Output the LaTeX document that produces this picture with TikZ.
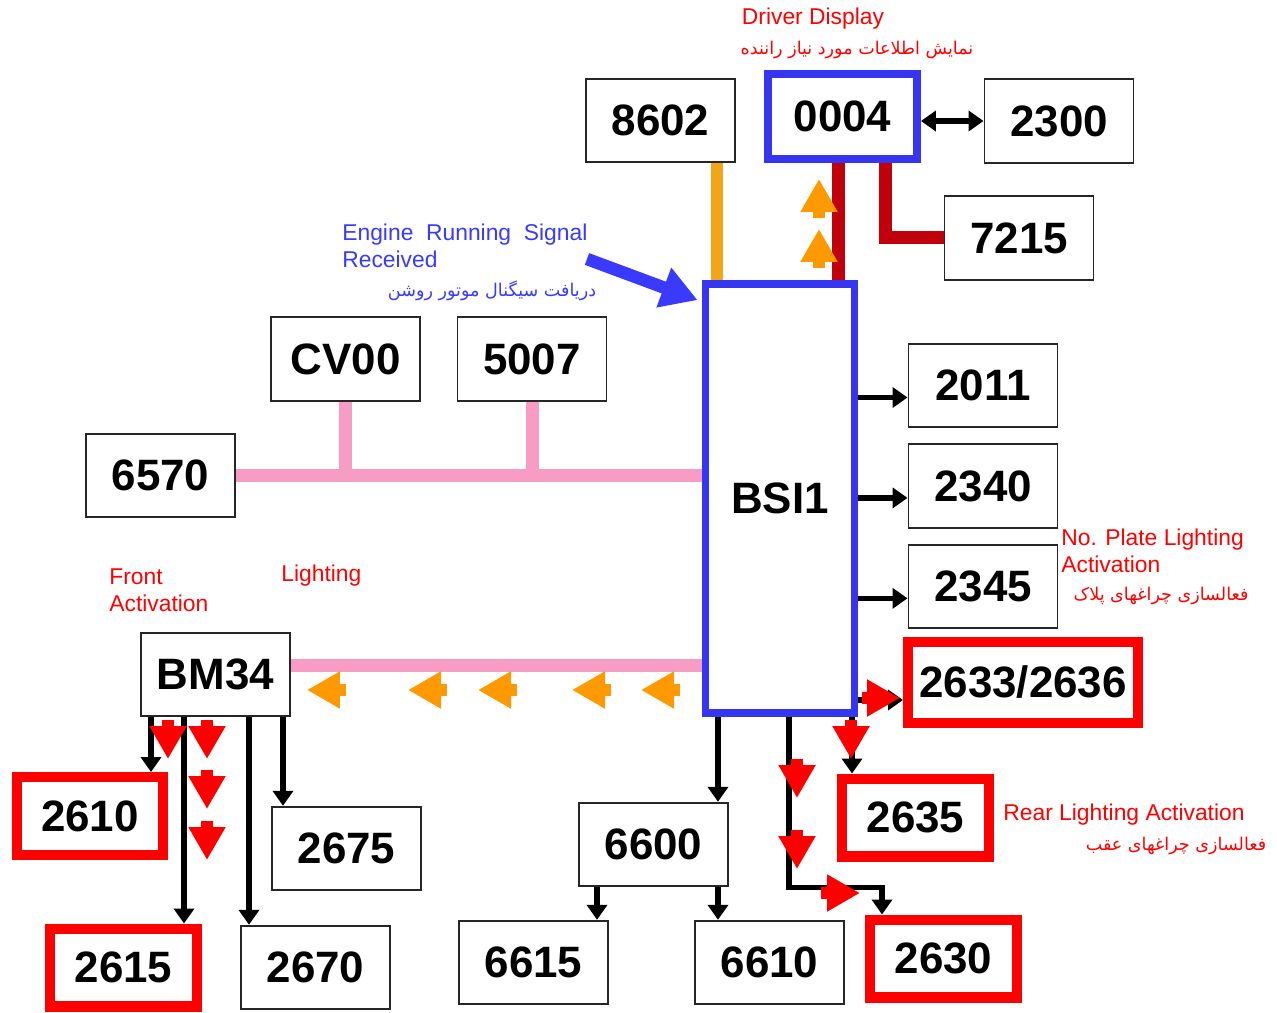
\documentclass[tikz,border=0pt]{standalone}
\usepackage{fontspec}
\setmainfont{Liberation Sans}
\newfontfamily\fafont[Script=Arabic]{DejaVu Sans}
\usetikzlibrary{arrows.meta,positioning}
\TeXXeTstate=1
\definecolor{BsiBlue}{HTML}{3535F2}
\definecolor{TextBlue}{HTML}{3A3AFF}
\definecolor{BusPink}{HTML}{F79CC4}
\definecolor{BusOrange}{HTML}{F2A516}
\definecolor{BusRed}{HTML}{C0000A}
\definecolor{FlowOrange}{HTML}{FF9900}
\definecolor{FlowRed}{HTML}{FF0000}
\newcommand{\digitfont}{\fontsize{25}{30}\selectfont\bfseries}
\newcommand{\labelfont}{\fontsize{13}{15.5}\selectfont}
\newcommand{\farsi}[1]{{\fafont\fontsize{10}{12}\selectfont\beginR #1\endR}}

\begin{document}
\begin{tikzpicture}[x=0.02cm,y=-0.02cm]
    \tikzset{ecu/.style={draw=black!85,line width=1.1pt,fill=white,minimum width=2.98cm,minimum height=1.67cm,inner sep=0pt,font=\digitfont},
      bsibox/.style={ecu,draw=BsiBlue,line width=4.5pt,minimum height=1.7cm},
      litbox/.style={ecu,draw=FlowRed,line width=5.7pt,minimum width=2.94cm,minimum height=1.56cm},
      note/.style={inner sep=0pt,text=FlowRed,font=\labelfont,align=left},
      farsinote/.style={inner sep=0pt,text=FlowRed},
      link/.style={line width=3.1pt,-{Triangle[length=0.3cm,width=0.4cm]}},
      bus/.style={line width=0.26cm},
      flow/.style={line width=0.24cm,-{Triangle[length=0.66cm,width=0.7cm]}}}
    \fill[white] (0,0) rectangle (1277,1013);
    \useasboundingbox (0,0) rectangle (1277,1013);
    % control units
    \node[ecu] (n8602) at (660.5,120.5) {8602};
    \node[bsibox] (n0004) at (842.5,116.5) {0004};
    \node[ecu] (n2300) at (1059,121) {2300};
    \node[ecu] (n7215) at (1019,238) {7215};
    \node[bsibox,minimum height=8.58cm] (bsi) at (780,498.5) {BSI1};
    \node[ecu] (nCV00) at (345.5,359) {CV00};
    \node[ecu] (n5007) at (532,359) {5007};
    \node[ecu] (n6570) at (160.5,475.5) {6570};
    \node[ecu] (n2011) at (983,385.5) {2011};
    \node[ecu,below=0.3cm of n2011] (n2340) {2340};
    \node[ecu,below=0.3cm of n2340] (n2345) {2345};
    \node[litbox,minimum width=4.6cm,minimum height=1.62cm] (n2633) at (1023,682.5) {2633/2636};
    \node[ecu] (nBM34) at (215.5,674.5) {BM34};
    \node[litbox] (n2610) at (90,816) {2610};
    \node[ecu] (n2675) at (346.5,848.5) {2675};
    \node[litbox] (n2615) at (123.5,967.5) {2615};
    \node[ecu] (n2670) at (315.5,967.5) {2670};
    \node[ecu] (n6600) at (653.5,844.5) {6600};
    \node[ecu] (n6615) at (533.5,962.5) {6615};
    \node[ecu] (n6610) at (769.5,962.5) {6610};
    \node[litbox] (n2635) at (915.5,817.5) {2635};
    \node[litbox] (n2630) at (943.5,958.5) {2630};
    % buses
    \draw[bus,BusOrange] ([xshift=1.13cm]n8602.south) -- ([xshift=1.13cm]n8602.south |- bsi.north);
    \draw[bus,BusRed] ([xshift=-0.09cm]n0004.south) -- ([xshift=-0.09cm]n0004.south |- bsi.north);
    \draw[bus,BusRed] ([xshift=0.85cm]n0004.south) |- (n7215.west);
    \draw[bus,BusPink] (n6570.east) -- (n6570.east -| bsi.west);
    \draw[bus,BusPink] (nCV00.south) -- (nCV00.south |- n6570.east);
    \draw[bus,BusPink] (n5007.south) -- (n5007.south |- n6570.east);
    \draw[bus,BusPink] ([yshift=0.19cm]nBM34.east) -- ([yshift=0.19cm]nBM34.east -| bsi.west);
    % wired links
    \draw[line width=3.1pt,{Triangle[length=0.3cm,width=0.4cm]}-{Triangle[length=0.3cm,width=0.4cm]}] (n2300.west -| n0004.east) -- (n2300.west);
    \foreach \n in {n2011,n2340,n2345}
      \draw[link] ([yshift=-0.24cm]\n.west -| bsi.east) -- ([yshift=-0.24cm]\n.west);
    \draw[link] ([yshift=-0.35cm]n2633.west -| bsi.east) -- ([yshift=-0.35cm]n2633.west);
    \draw[link] ([xshift=-1.27cm]n2635.north |- bsi.south) -- ([xshift=-1.27cm]n2635.north);
    \draw[link] ([xshift=1.29cm]n6600.north |- bsi.south) -- ([xshift=1.29cm]n6600.north);
    \coordinate (turn) at ([xshift=-1.23cm,yshift=0.54cm]n2630.north);
    \draw[link] ([xshift=0.18cm]bsi.south) |- (turn) -- ([xshift=-1.23cm]n2630.north);
    \draw[link] ([xshift=-1.13cm]n6600.south) -- ([xshift=-1.13cm]n6600.south |- n6615.north);
    \draw[link] ([xshift=1.29cm]n6600.south) -- ([xshift=1.29cm]n6600.south |- n6610.north);
    \foreach \dx/\t in {-1.29/n2610,-0.63/n2615,0.67/n2670,1.35/n2675}
      \draw[link] ([xshift=\dx cm]nBM34.south) -- ([xshift=\dx cm]nBM34.south |- \t.north);
    % engine signal
    \coordinate (engtail) at (587,259);
    \draw[line width=0.25cm,TextBlue,-{Triangle[length=0.72cm,width=0.8cm]}] (engtail) -- ([xshift=-0.08cm,yshift=-0.4cm]bsi.north west);
    % flow arrows
    \foreach \y in {218,268}
      \draw[flow,FlowOrange] (819,\y) -- (819,\y-39);
    \foreach \x in {307,408,478,572,641}
      \draw[flow,FlowOrange] (\x+39,690) -- (\x,690);
    \foreach \x/\y in {168/720,207/720,207/770,207/821,851/720,797/759,797/830}
      \draw[flow,FlowRed] (\x,\y) -- (\x,\y+39);
    \draw[flow,FlowRed] (821,893) -- (860,893);
    \draw[flow,FlowRed] (862,698) -- (900,698);
    % labels
    \node[note] (drvlbl) at (813,19) {Driver Display};
    \node[farsinote] (drvfa) at (857,50) {\farsi{نمایش اطلاعات مورد نیاز راننده}};
    \node[note,text=TextBlue,anchor=west] (englbl) at (342,245.5) {Engine\ \ Running\ \ Signal\\Received};
    \node[farsinote,text=TextBlue] (engfa) at (492,291) {\farsi{دریافت سیگنال موتور روشن}};
    \node[note,anchor=west] (platelbl) at (1061,551) {No. Plate Lighting\\Activation};
    \node[farsinote] (platefa) at (1161,596) {\farsi{فعالسازی چراغهای پلاک}};
    \node[note,anchor=west] (rearlbl) at (1003,815) {Rear Lighting Activation};
    \node[farsinote] (rearfa) at (1176,846) {\farsi{فعالسازی چراغهای عقب}};
    \node[note,anchor=west] (frontlbl) at (109,590) {Front\\Activation};
    \node[note,anchor=west] (lightlbl) at (281,576) {Lighting};
  \end{tikzpicture}
\end{document}
